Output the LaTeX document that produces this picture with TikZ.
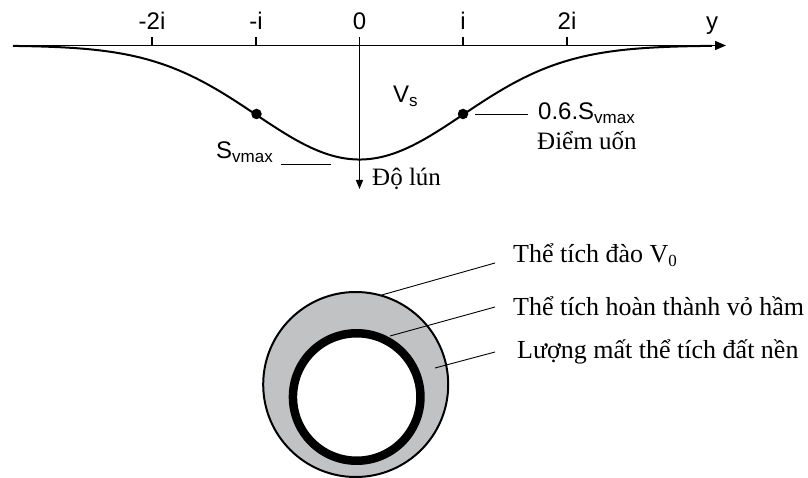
\documentclass[tikz,border=0pt]{standalone}
\usepackage{fontspec}
\setmainfont{Liberation Serif}
\newfontfamily\arialf{Liberation Sans}
\usetikzlibrary{arrows.meta}
\definecolor{soilgray}{RGB}{192,194,196}
\newcommand{\lowsub}[1]{\raisebox{-0.28ex}{\fontsize{17}{18}\selectfont #1}}
\begin{document}
\begin{tikzpicture}[x=1pt,y=-1pt,
  sanslab/.style={font=\arialf\fontsize{24}{25}\selectfont, inner sep=0pt},
  seriflab/.style={font=\fontsize{25}{26}\selectfont, inner sep=0pt},
  seriflabB/.style={font=\fontsize{26}{27}\selectfont, inner sep=0pt},
  axisline/.style={line width=1.3pt},
  tickline/.style={line width=1.3pt},
  leader/.style={line width=0.9pt},
  curveline/.style={line width=2pt},
  dotnode/.style={circle, fill=black, inner sep=0pt, minimum size=10.5pt},
  outerring/.style={line width=2pt, fill=soilgray},
  lining/.style={line width=8.5pt, fill=white}]
\useasboundingbox (0,0) rectangle (808,478);
% horizontal axis
\coordinate (ax0) at (13,45.5);
\coordinate (ax1) at (726,45.5);
\draw[axisline,-{Triangle[length=11pt,width=9pt]}] (ax0) -- (ax1);
% ticks and labels
\foreach \x/\l/\n in {152/-2i/a,256/-i/b,463/i/c,567/2i/d}{
  \coordinate (t\n) at (\x,37.5);
  \coordinate (b\n) at (\x,45.5);
  \draw[tickline] (t\n) -- (b\n);
  \node[sanslab,anchor=base] (lab\n) at (\x,30) {\l};
}
\node[sanslab,anchor=base] (labzero) at (359.5,30) {0};
\node[sanslab,anchor=base] (laby) at (712,30) {y};
% vertical axis
\coordinate (v0) at (359.5,37.5);
\coordinate (v1) at (359.5,189);
\draw[axisline,-{Triangle[length=9pt,width=7pt]}] (v0) -- (v1);
% settlement trough
\draw[curveline] plot[domain=13:712, samples=220, smooth]
  (\x, {45.5 + 114*exp(-0.5*((\x-359.5)/103.5)^2)});
% inflection points
\node[dotnode] (dL) at (256.5,114) {};
\node[dotnode] (dR) at (463,114) {};
% labels
\node[sanslab,anchor=base west] (vs) at (393,103) {V\lowsub{s}};
\coordinate (rl0) at (475,114);
\coordinate (rl1) at (528,114);
\draw[leader] (rl0) -- (rl1);
\node[sanslab,anchor=base west] (svr) at (538,120) {0.6.S\lowsub{vmax}};
\node[seriflab,anchor=base west] (diem) at (537,150) {Điểm uốn};
\node[sanslab,anchor=base west] (svl) at (216,159) {S\lowsub{vmax}};
\coordinate (sl0) at (281,164);
\coordinate (sl1) at (331,164);
\draw[leader] (sl0) -- (sl1);
\node[seriflab,anchor=base west] (dolun) at (372,186) {Độ lún};
% tunnel section
\draw[outerring] (355.7,384.5) circle (92.5pt);
\draw[lining] (356.7,397) circle (63.75pt);
% leader lines
\coordinate (p1) at (381.7,295);
\coordinate (q1) at (495,263);
\coordinate (p2) at (390,336);
\coordinate (q2) at (495,307);
\coordinate (p3) at (435,368);
\coordinate (q3) at (495,352);
\draw[leader] (p1) -- (q1);
\draw[leader] (p2) -- (q2);
\draw[leader] (p3) -- (q3);
\node[seriflabB,anchor=base west] (txt1) at (513,263) {Thể tích đào V\lowsub{0}};
\node[seriflabB,anchor=base west] (txt2) at (513,315) {Thể tích hoàn thành vỏ hầm};
\node[seriflabB,anchor=base west] (txt3) at (517,358) {Lượng mất thể tích đất nền};
\end{tikzpicture}
\end{document}
